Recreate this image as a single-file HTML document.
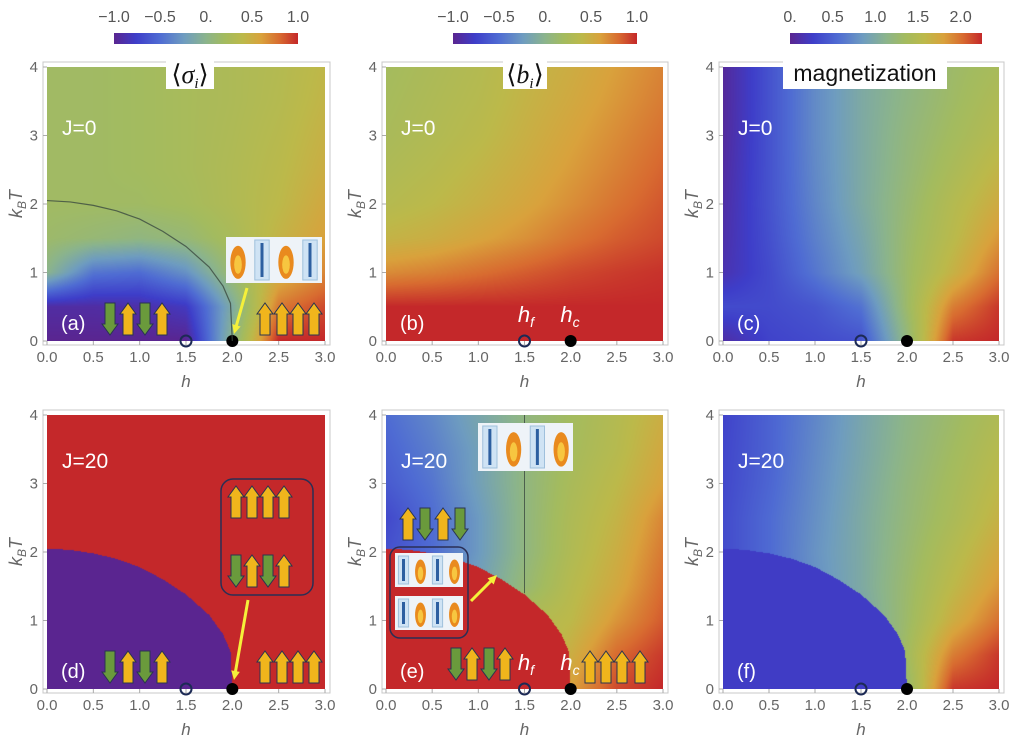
<!DOCTYPE html>
<html><head><meta charset="utf-8">
<style>
html,body{margin:0;padding:0;background:#fff;}
#wrap{position:relative;width:1024px;height:745px;overflow:hidden;font-family:"Liberation Sans",sans-serif;}
canvas{position:absolute;}
svg{position:absolute;left:0;top:0;}
</style></head><body>
<div id="wrap">
<svg id="ov" width="1024" height="745"></svg>
</div>
<script>
// ---- data ----
const hGrid=[0,0.5,1,1.5,2,2.5,3];
const tGrid=[0,0.5,1,1.5,2,2.5,3,3.5,4];
const gridA=[
[-1,-1,-1,-1,0,1,1],
[-0.92,-0.92,-0.9,-0.8,-0.1,0.75,0.9],
[0.0,-0.45,-0.5,-0.3,0.15,0.5,0.7],
[0.15,0.1,0.05,0.1,0.25,0.45,0.6],
[0.18,0.18,0.18,0.22,0.3,0.4,0.55],
[0.18,0.18,0.2,0.24,0.3,0.38,0.5],
[0.18,0.18,0.2,0.24,0.29,0.36,0.47],
[0.18,0.18,0.2,0.24,0.28,0.34,0.44],
[0.18,0.18,0.2,0.24,0.28,0.33,0.42]];
const gridB=[
[1,1,1,1,1,1,1],
[1,1,1,1,1,1,1],
[0.68,0.72,0.78,0.84,0.9,0.94,0.97],
[0.45,0.5,0.58,0.66,0.76,0.84,0.9],
[0.34,0.4,0.48,0.57,0.67,0.77,0.86],
[0.29,0.35,0.43,0.52,0.62,0.72,0.82],
[0.25,0.31,0.38,0.48,0.58,0.68,0.78],
[0.23,0.29,0.35,0.45,0.54,0.64,0.74],
[0.21,0.27,0.33,0.43,0.51,0.61,0.71]];
const gridC=[
[0.1,0.3,0.35,0.4,1.2,2.2,2.25],
[0.35,0.35,0.42,0.6,1.3,1.95,2.2],
[0.15,0.35,0.62,0.9,1.3,1.65,2.0],
[0.12,0.38,0.68,0.95,1.28,1.55,1.85],
[0.1,0.4,0.72,1.0,1.25,1.5,1.72],
[0.08,0.4,0.74,1.0,1.22,1.42,1.62],
[0.06,0.4,0.75,1.0,1.2,1.36,1.52],
[0.05,0.4,0.75,1.0,1.17,1.32,1.46],
[0.05,0.4,0.75,1.0,1.15,1.3,1.4]];
const gridD=[
[1,1,1,1,1,1,1],[1,1,1,1,1,1,1],[1,1,1,1,1,1,1],[1,1,1,1,1,1,1],[1,1,1,1,1,1,1],
[1,1,1,1,1,1,1],[1,1,1,1,1,1,1],[1,1,1,1,1,1,1],[1,1,1,1,1,1,1]];
const gridE=[
[-0.5,-0.4,-0.2,0.1,0.6,0.9,1],
[-0.5,-0.4,-0.2,0.15,0.5,0.8,0.95],
[-0.5,-0.4,-0.2,0.3,0.4,0.65,0.85],
[-0.55,-0.4,-0.2,0.1,0.35,0.55,0.8],
[-0.65,-0.5,-0.25,0.05,0.3,0.5,0.75],
[-0.7,-0.5,-0.25,0.05,0.28,0.45,0.7],
[-0.6,-0.45,-0.2,0.05,0.25,0.4,0.6],
[-0.55,-0.4,-0.2,0.05,0.22,0.35,0.55],
[-0.5,-0.35,-0.15,0.05,0.2,0.33,0.5]];
const gridF=[
[0.3,0.3,0.3,0.5,1.25,2.2,2.25],
[0.35,0.4,0.5,0.8,1.35,1.95,2.2],
[0.35,0.5,0.7,0.95,1.3,1.7,2.0],
[0.35,0.55,0.78,1.0,1.28,1.58,1.85],
[0.35,0.55,0.8,1.0,1.25,1.5,1.75],
[0.35,0.55,0.78,1.0,1.22,1.42,1.65],
[0.33,0.52,0.76,0.98,1.2,1.38,1.58],
[0.32,0.5,0.74,0.96,1.17,1.34,1.52],
[0.3,0.5,0.72,0.95,1.15,1.3,1.46]];
const boundaryH=[0,0.25,0.5,0.75,1,1.25,1.5,1.75,1.9,1.98,2.0];
const boundaryT=[2.05,2.03,1.98,1.9,1.78,1.6,1.38,1.08,0.8,0.55,0];
const insideD=-1, insideE=1, insideF=0.25;
const xTicks=[0,0.5,1,1.5,2,2.5,3];
const xTickLabels=["0.0","0.5","1.0","1.5","2.0","2.5","3.0"];
const yTicks=[0,1,2,3,4];
const cbTicksS=[-1,-0.5,0,0.5,1], cbLabelsS=["\u22121.0","\u22120.5","0.","0.5","1.0"];
const cbTicksM=[0,0.5,1,1.5,2], cbLabelsM=["0.","0.5","1.0","1.5","2.0"];

// ---- colormap ----
const stops=[[0,[90,37,144]],[0.12,[62,62,201]],[0.25,[79,108,211]],[0.38,[110,156,192]],[0.5,[139,180,140]],[0.6,[163,187,95]],[0.7,[188,185,74]],[0.8,[217,162,60]],[0.9,[216,107,48]],[1,[196,40,42]]];
function cmap(t){t=Math.max(0,Math.min(1,t));for(let i=1;i<stops.length;i++){if(t<=stops[i][0]){const a=stops[i-1],b=stops[i],f=(t-a[0])/(b[0]-a[0]);return [0,1,2].map(k=>Math.round(a[1][k]+(b[1][k]-a[1][k])*f));}}return stops[stops.length-1][1];}
function lin(xs,ys,x){if(x<=xs[0])return ys[0];for(let i=1;i<xs.length;i++){if(x<=xs[i]){const f=(x-xs[i-1])/(xs[i]-xs[i-1]);return ys[i-1]+(ys[i]-ys[i-1])*f;}}return ys[ys.length-1];}
function grid(g,h,T){let i=Math.min(hGrid.length-2,Math.floor(h/0.5)),j=Math.min(tGrid.length-2,Math.floor(T/0.5));const fx=(h-hGrid[i])/0.5,fy=(T-tGrid[j])/0.5;
return g[j][i]*(1-fx)*(1-fy)+g[j][i+1]*fx*(1-fy)+g[j+1][i]*(1-fx)*fy+g[j+1][i+1]*fx*fy;}
function tc(h){return h>=2?-1:lin(boundaryH,boundaryT,h);}

const panels=[
 {id:"a",x0:47,x1:325,y0:67,y1:341,g:gridA,lo:-1,hi:1},
 {id:"b",x0:386,x1:663,y0:67,y1:341,g:gridB,lo:-1,hi:1},
 {id:"c",x0:723,x1:999,y0:67,y1:341,g:gridC,lo:0,hi:2.25},
 {id:"d",x0:47,x1:325,y0:415,y1:689,g:gridD,lo:-1,hi:1,inside:insideD},
 {id:"e",x0:386,x1:663,y0:415,y1:689,g:gridE,lo:-1,hi:1,inside:insideE},
 {id:"f",x0:723,x1:999,y0:415,y1:689,g:gridF,lo:0,hi:2.25,inside:insideF}];
const wrap=document.getElementById('wrap');
const NS="http://www.w3.org/2000/svg";
const ov=document.getElementById('ov');
function el(tag,attrs,parent){const e=document.createElementNS(NS,tag);for(const k in attrs)e.setAttribute(k,attrs[k]);(parent||ov).appendChild(e);return e;}

panels.forEach(p=>{
 const W=p.x1-p.x0,H=p.y1-p.y0;
 const c=document.createElement('canvas');c.width=W;c.height=H;c.style.left=p.x0+'px';c.style.top=p.y0+'px';
 
 
 wrap.insertBefore(c,ov);
 const ctx=c.getContext('2d'),im=ctx.createImageData(W,H);
 for(let y=0;y<H;y++){const T=4*(1-(y+0.5)/H);for(let x=0;x<W;x++){const h=3*(x+0.5)/W;
  let v=(p.inside!==undefined && T<tc(h))?p.inside:grid(p.g,h,T);
  const col=cmap((v-p.lo)/(p.hi-p.lo));const k=(y*W+x)*4;im.data[k]=col[0];im.data[k+1]=col[1];im.data[k+2]=col[2];im.data[k+3]=255;}}
 ctx.putImageData(im,0,0);
});

function sx(p,h){return p.x0+(p.x1-p.x0)*h/3;}
function sy(p,T){return p.y1-(p.y1-p.y0)*T/4;}

// axes
panels.forEach(p=>{
 const g=el('g',{});
 
 
 el('rect',{x:p.x0-4,y:p.y0-5,width:p.x1-p.x0+9,height:p.y1-p.y0+9,fill:'none',stroke:'#c8c8c8','stroke-width':1},g);
 xTicks.forEach((v,i)=>{const x=sx(p,v);
  el('line',{x1:x,x2:x,y1:p.y1+4,y2:p.y1,stroke:'#aaa'},g);
  const t=el('text',{x:x,y:p.y1+21,'text-anchor':'middle','font-size':15,fill:'#666'},g);t.textContent=xTickLabels[i];});
 yTicks.forEach(v=>{const y=sy(p,v);
  el('line',{x1:p.x0-4,x2:p.x0,y1:y,y2:y,stroke:'#aaa'},g);
  const t=el('text',{x:p.x0-9,y:y+5,'text-anchor':'end','font-size':15,fill:'#666'},g);t.textContent=v;});
 const xl=el('text',{x:(p.x0+p.x1)/2,y:p.y1+46,'text-anchor':'middle','font-size':17,'font-style':'italic',fill:'#666'},g);xl.textContent='h';
 
 
 const cy=(p.y0+p.y1)/2,cx=p.x0-25;
 const yl=el('text',{x:cx,y:cy,'text-anchor':'middle','font-size':18,'font-style':'italic',fill:'#666',transform:`rotate(-90 ${cx} ${cy})`},g);
 yl.innerHTML='k<tspan font-size="12" dy="4">B</tspan><tspan dy="-4">T</tspan>';
 
 
 el('circle',{cx:sx(p,1.5),cy:p.y1,r:5.5,fill:'none',stroke:'#1c2a55','stroke-width':2},g);
 el('circle',{cx:sx(p,2),cy:p.y1,r:6,fill:'#000'},g);
 const lab=el('text',{x:p.x0+14,y:p.y1-11,'font-size':20,fill:'#fff'},g);lab.textContent='('+p.id+')';
 
 
 const jl=el('text',{x:p.x0+15,y:p.id<'d'?p.y0+68:p.y0+53,'font-size':21,fill:'#fff'},g);jl.textContent=p.id<'d'?'J=0':'J=20';
 
 
});

// colorbars
function colorbar(x0,x1,ticks,labels,lo,hi,name){
 const g=el('g',{});
 
 
 const id='grad'+name;const d=el('defs',{},g);const lg=el('linearGradient',{id:id,x1:0,x2:1,y1:0,y2:0},d);
 stops.forEach(s=>el('stop',{offset:s[0],'stop-color':`rgb(${s[1].join(',')})`},lg));
 el('rect',{x:x0,y:33,width:x1-x0,height:11,fill:`url(#${id})`},g);
 ticks.forEach((v,i)=>{const t=el('text',{x:x0+(x1-x0)*(v-lo)/(hi-lo),y:22,'text-anchor':'middle','font-size':16,fill:'#555'},g);t.textContent=labels[i];});
}
colorbar(114,298,cbTicksS,cbLabelsS,-1,1,'colorbar-sigma');
colorbar(453,637,cbTicksS,cbLabelsS,-1,1,'colorbar-b');
colorbar(790,982,cbTicksM,cbLabelsM,0,2.25,'colorbar-magnetization');

// titles
function title(x,w,html,name,serif){const g=el('g',{});
 el('rect',{x:x,y:59,width:w,height:30,fill:'#fff'},g);
 const t=el('text',{x:x+w/2,y:serif?83:81,'text-anchor':'middle','font-size':serif?26:23,'font-family':serif?'"Liberation Serif",serif':'"Liberation Sans",sans-serif',fill:'#111'},g);t.innerHTML=html;}
title(166,48,'⟨<tspan font-style="italic">σ</tspan><tspan font-size="15" dy="5" font-style="italic">i</tspan><tspan dy="-5">⟩</tspan>','title-sigma',true);
title(503,44,'⟨<tspan font-style="italic">b</tspan><tspan font-size="15" dy="5" font-style="italic">i</tspan><tspan dy="-5">⟩</tspan>','title-b',true);
title(783,164,'magnetization','title-magnetization',false);

// lines
const pa=panels[0],pe=panels[4];
let dpath='';boundaryH.forEach((h,i)=>{dpath+=(i?'L':'M')+sx(pa,h)+','+sy(pa,boundaryT[i]);});
const cl=el('path',{d:dpath,fill:'none',stroke:'#3b4a40','stroke-width':1.2,opacity:0.8});


el('line',{x1:sx(pe,1.5),x2:sx(pe,1.5),y1:sy(pe,1.4),y2:pe.y0,stroke:'#3b4a40','stroke-width':1,opacity:0.8});

// spin arrows
function arrow(x,y0,y1,up,color){const w=5,hw=8,hh=11;let d;
 if(up)d=`M${x-w},${y1}L${x-w},${y0+hh}L${x-hw},${y0+hh}L${x},${y0}L${x+hw},${y0+hh}L${x+w},${y0+hh}L${x+w},${y1}Z`;
 else d=`M${x-w},${y0}L${x-w},${y1-hh}L${x-hw},${y1-hh}L${x},${y1}L${x+hw},${y1-hh}L${x+w},${y1-hh}L${x+w},${y0}Z`;
 const a=el('path',{d:d,fill:color,stroke:'#2a3550','stroke-width':1});
 
 }
const Y='#f0b51c',G='#6a9a3c';
function afm(xs,y0,y1,startDown){xs.forEach((x,i)=>{const down=(i%2===0)===startDown;arrow(x,y0,y1,!down,down?G:Y);});}
afm([110,128,145,162],303,335,true);[265,282,298,314].forEach(x=>arrow(x,303,335,true,Y));
afm([110,128,145,162],651,683,true);[265,282,298,314].forEach(x=>arrow(x,651,683,true,Y));
afm([408,425,443,460],508,540,false);
afm([456,472,489,505],648,680,true);[590,606,622,640].forEach(x=>arrow(x,651,683,true,Y));
el('rect',{x:221,y:479,width:92,height:116,rx:12,fill:'none',stroke:'#2a2f55','stroke-width':1.5});
[236,252,268,284].forEach((x,i)=>{arrow(x,486,518,true,Y);});
afm([236,252,268,284],555,587,true);

// fire/ice tiles
function tiles(x,y,w,h,order,name){const g=el('g',{});
 el('rect',{x:x,y:y,width:w,height:h,fill:'#eef3f8'},g);const cw=w/4;
 order.forEach((o,i)=>{const cx=x+cw*i+cw/2;
  if(o==='f'){el('ellipse',{cx:cx,cy:y+h*0.55,rx:cw*0.32,ry:h*0.36,fill:'#e98a1e'},g);el('ellipse',{cx:cx,cy:y+h*0.6,rx:cw*0.16,ry:h*0.2,fill:'#f7c640'},g);}
  else{el('rect',{x:cx-cw*0.3,y:y+3,width:cw*0.6,height:h-6,fill:'#cfe3f4',stroke:'#9fc0dc'},g);el('line',{x1:cx,x2:cx,y1:y+6,y2:y+h-6,stroke:'#2d5fa0','stroke-width':3},g);}});}
tiles(226,237,96,46,['f','i','f','i'],'fire-ice-inset-a');
tiles(478,423,95,48,['i','f','i','f'],'fire-ice-inset-e');
el('rect',{x:390,y:547,width:78,height:91,rx:10,fill:'none',stroke:'#2a2f55','stroke-width':1.5});
tiles(395,553,68,34,['i','f','i','f'],'fire-ice-inset-e1');
tiles(395,596,68,34,['i','f','i','f'],'fire-ice-inset-e2');

// yellow arrows
function yarrow(x1,y1,x2,y2){const a=Math.atan2(y2-y1,x2-x1),L=10;
 el('line',{x1:x1,y1:y1,x2:x2-Math.cos(a)*6,y2:y2-Math.sin(a)*6,stroke:'#f5f03a','stroke-width':3});
 el('path',{d:`M${x2},${y2}L${x2-L*Math.cos(a-0.45)},${y2-L*Math.sin(a-0.45)}L${x2-L*Math.cos(a+0.45)},${y2-L*Math.sin(a+0.45)}Z`,fill:'#f5f03a'});}
yarrow(247,288,234,334);yarrow(248,600,234,680);yarrow(471,601,497,575);

function hl(x,y,s){const t=el('text',{x:x,y:y,'font-size':22,'font-style':'italic',fill:'#fff','text-anchor':'middle'});t.innerHTML='h<tspan font-size="14" dy="5">'+s+'</tspan>';
 
 }
hl(526,322,'f');hl(570,322,'c');hl(526,670,'f');hl(570,670,'c');
</script>
</body></html>
